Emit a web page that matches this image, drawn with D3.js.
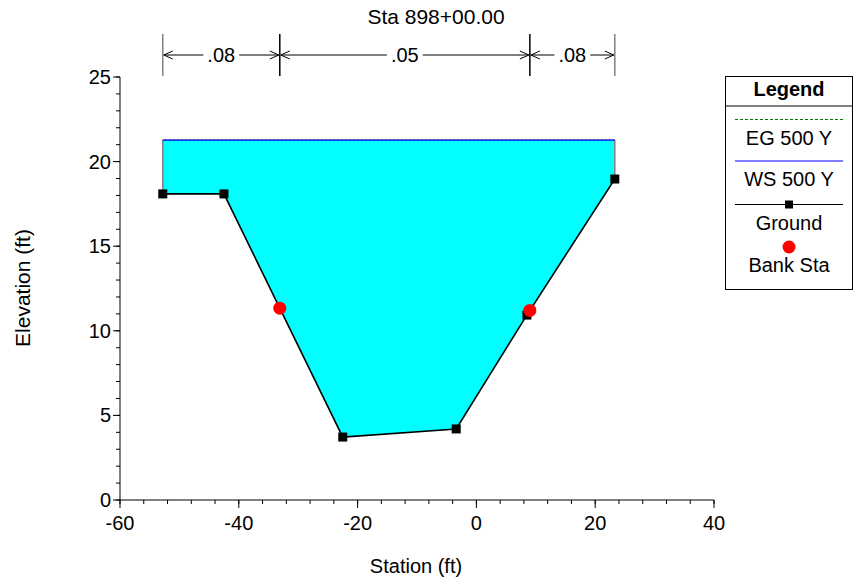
<!DOCTYPE html>
<html><head><meta charset="utf-8">
<script src="https://cdn.jsdelivr.net/npm/d3@7"></script>
<style>body{margin:0;background:#fff;} svg{display:block;font-family:"Liberation Sans",Arial,sans-serif;}</style>
</head><body>
<script>
const title = "Sta 898+00.00";
const groundStation = [-52.8, -42.5, -22.5, -3.4, 8.5, 23.3];
const groundElev = [18.09, 18.09, 3.72, 4.2, 10.93, 18.97];
const bankStation = [-33.1, 9.0];
const wsElev = 21.27;
const egElev = 21.28;
const manningN = [".08", ".05", ".08"];
const xTicks = [-60, -40, -20, 0, 20, 40];
const yTicks = [0, 5, 10, 15, 20, 25];
const legendLabels = ["EG 500 Y", "WS 500 Y", "Ground", "Bank Sta"];

const W = 855, H = 581;
const svg = d3.select("body").append("svg").attr("width", W).attr("height", H);
const x = d3.scaleLinear().domain([-60, 40]).range([120, 714]);
const y = d3.scaleLinear().domain([0, 25]).range([500, 77]);

const ground = groundStation.map((s, i) => [s, groundElev[i]]);
const interp = s => {
  for (let i = 0; i < ground.length - 1; i++) {
    const a = ground[i], b = ground[i + 1];
    if (s >= a[0] && s <= b[0]) return a[1] + (b[1] - a[1]) * (s - a[0]) / (b[0] - a[0]);
  }
  return null;
};

// water fill
const x0 = groundStation[0], x1 = groundStation[groundStation.length - 1];
const waterPts = [[x0, wsElev]].concat(ground).concat([[x1, wsElev]]);
const line = d3.line().x(d => x(d[0])).y(d => y(d[1]));
svg.append("path").attr("d", line(waterPts) + "Z").attr("fill", "#00ffff").attr("stroke", "none");
// vertical walls
[x0, x1].forEach((s, i) => {
  svg.append("line").attr("x1", x(s)).attr("x2", x(s)).attr("y1", y(wsElev)).attr("y2", y(groundElev[i === 0 ? 0 : groundElev.length - 1]))
    .attr("stroke", "#808080").attr("stroke-width", 1.5);
});
// WS line
svg.append("line").attr("x1", x(x0)).attr("x2", x(x1)).attr("y1", y(wsElev)).attr("y2", y(wsElev))
  .attr("stroke", "#0000ff").attr("stroke-width", 1.5);
// EG line
svg.append("line").attr("x1", x(x0)).attr("x2", x(x1)).attr("y1", y(egElev) - 0.5).attr("y2", y(egElev) - 0.5)
  .attr("stroke", "#808080").attr("stroke-width", 1).attr("stroke-dasharray", "2,2");

// ground
svg.append("path").attr("d", line(ground)).attr("fill", "none").attr("stroke", "#000").attr("stroke-width", 1.6);
svg.selectAll("rect.g").data(ground).enter().append("rect").attr("class", "g")
  .attr("x", d => x(d[0]) - 4.5).attr("y", d => y(d[1]) - 4.5).attr("width", 9).attr("height", 9).attr("fill", "#000");
// banks
svg.selectAll("circle.b").data(bankStation).enter().append("circle").attr("class", "b")
  .attr("cx", d => x(d)).attr("cy", d => y(interp(d))).attr("r", 6.5).attr("fill", "#ff0000");

// axes
const xAxisG = svg.append("g");
xAxisG.append("line").attr("x1", x(-60)).attr("x2", x(40)).attr("y1", y(0)).attr("y2", y(0)).attr("stroke", "#000");
const xMinor = d3.range(-60, 40.01, 4);
xAxisG.selectAll("line.mn").data(xMinor).enter().append("line")
  .attr("x1", d => x(d)).attr("x2", d => x(d)).attr("y1", y(0)).attr("y2", y(0) + 4).attr("stroke", "#000");
xAxisG.selectAll("line.mj").data(xTicks).enter().append("line")
  .attr("x1", d => x(d)).attr("x2", d => x(d)).attr("y1", y(0)).attr("y2", y(0) + 8).attr("stroke", "#000");
xAxisG.selectAll("text").data(xTicks).enter().append("text")
  .attr("x", d => x(d)).attr("y", y(0) + 30).attr("text-anchor", "middle").attr("font-size", 20).text(d => d);

const yAxisG = svg.append("g");
yAxisG.append("line").attr("x1", x(-60)).attr("x2", x(-60)).attr("y1", y(0)).attr("y2", y(25)).attr("stroke", "#000");
const yMinor = d3.range(0, 25.01, 1);
yAxisG.selectAll("line.mn").data(yMinor).enter().append("line")
  .attr("x1", x(-60) - 4).attr("x2", x(-60)).attr("y1", d => y(d)).attr("y2", d => y(d)).attr("stroke", "#000");
yAxisG.selectAll("line.mj").data(yTicks).enter().append("line")
  .attr("x1", x(-60) - 7).attr("x2", x(-60)).attr("y1", d => y(d)).attr("y2", d => y(d)).attr("stroke", "#000");
yAxisG.selectAll("text").data(yTicks).enter().append("text")
  .attr("x", x(-60) - 9).attr("y", d => y(d) + 7).attr("text-anchor", "end").attr("font-size", 20).text(d => d);

svg.append("text").attr("x", 416).attr("y", 573).attr("text-anchor", "middle").attr("font-size", 20).text("Station (ft)");
svg.append("text").attr("transform", "translate(30,288) rotate(-90)").attr("text-anchor", "middle").attr("font-size", 21).text("Elevation (ft)");

// title
svg.append("text").attr("x", 436).attr("y", 24).attr("text-anchor", "middle").attr("font-size", 21).text(title);

// Manning's n dimension lines
const bounds = [x0, bankStation[0], bankStation[1], x1];
const dy = 55;
bounds.forEach((s, i) => {
  svg.append("line").attr("x1", x(s)).attr("x2", x(s)).attr("y1", 34).attr("y2", 76)
    .attr("stroke", (i === 0 || i === 3) ? "#808080" : "#000").attr("stroke-width", 1.5);
});
manningN.forEach((n, i) => {
  const a = x(bounds[i]), b = x(bounds[i + 1]), c = (a + b) / 2;
  const t = svg.append("text").attr("x", c).attr("y", dy + 7).attr("text-anchor", "middle").attr("font-size", 20).text(n);
  const tw = t.node().getComputedTextLength();
  const g1 = c - tw / 2 - 4, g2 = c + tw / 2 + 4;
  svg.append("line").attr("x1", a + 1).attr("x2", g1).attr("y1", dy).attr("y2", dy).attr("stroke", "#000");
  svg.append("line").attr("x1", g2).attr("x2", b - 1).attr("y1", dy).attr("y2", dy).attr("stroke", "#000");
  // arrowheads
  svg.append("path").attr("d", `M${a + 10},${dy - 4}L${a + 1},${dy}L${a + 10},${dy + 4}`).attr("fill", "none").attr("stroke", "#000");
  svg.append("path").attr("d", `M${b - 10},${dy - 4}L${b - 1},${dy}L${b - 10},${dy + 4}`).attr("fill", "none").attr("stroke", "#000");
});

// legend
const lg = svg.append("g");
const lx = 725.5, ly = 76.5, lw = 127, lh = 213;
lg.append("rect").attr("x", lx).attr("y", ly).attr("width", lw).attr("height", lh).attr("fill", "#fff").attr("stroke", "#000");
lg.append("line").attr("x1", lx).attr("x2", lx + lw).attr("y1", 106).attr("y2", 106).attr("stroke", "#000");
lg.append("text").attr("x", lx + lw / 2).attr("y", 96).attr("text-anchor", "middle").attr("font-size", 20).attr("font-weight", "bold").text("Legend");
const cx = lx + lw / 2, l1 = 735, l2 = 843;
lg.append("line").attr("x1", l1).attr("x2", l2).attr("y1", 119.5).attr("y2", 119.5).attr("stroke", "#007a00").attr("stroke-dasharray", "3,2");
lg.append("line").attr("x1", l1).attr("x2", l2).attr("y1", 161).attr("y2", 161).attr("stroke", "#5555ff").attr("stroke-width", 1.5);
lg.append("line").attr("x1", l1).attr("x2", l2).attr("y1", 204.5).attr("y2", 204.5).attr("stroke", "#000").attr("stroke-width", 1.2);
lg.append("rect").attr("x", cx - 4).attr("y", 200.5).attr("width", 8).attr("height", 8).attr("fill", "#000");
lg.append("circle").attr("cx", cx).attr("cy", 247).attr("r", 6.5).attr("fill", "#ff0000");
const ly2 = [145, 186, 230, 272];
legendLabels.forEach((t, i) => {
  lg.append("text").attr("x", cx).attr("y", ly2[i]).attr("text-anchor", "middle").attr("font-size", 20).text(t);
});
</script>
</body></html>
